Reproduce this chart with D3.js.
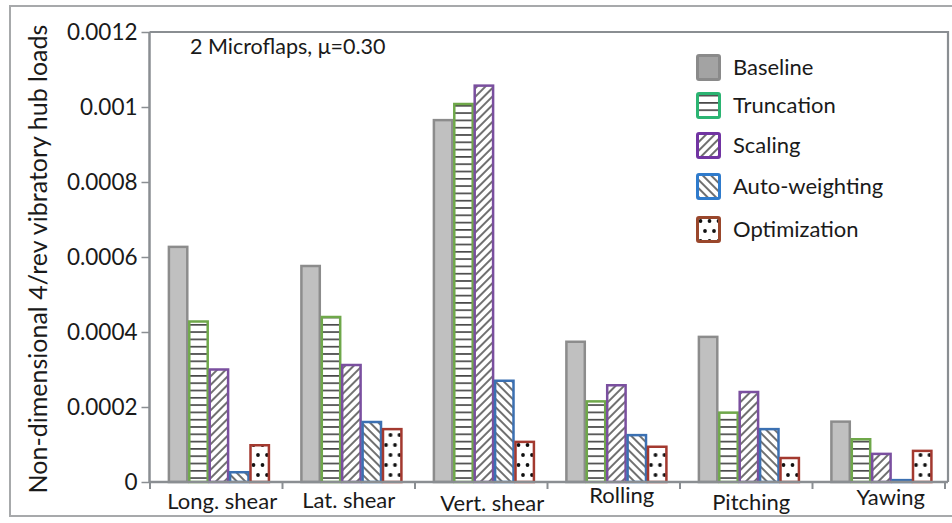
<!DOCTYPE html>
<html>
<head>
<meta charset="utf-8">
<script src="https://cdn.jsdelivr.net/npm/d3@7"></script>
<style>
  body { margin: 0; background: #fff; }
  text { font-family: Lato, "Open Sans", sans-serif; fill: #1a1a1a; }
</style>
</head>
<body>
<svg id="chart" width="952" height="523"></svg>
<script>
// data
const categories = ["Long. shear", "Lat. shear", "Vert. shear", "Rolling", "Pitching", "Yawing"];
const series = ["Baseline", "Truncation", "Scaling", "Auto-weighting", "Optimization"];
const baseline      = [0.000627, 0.000576, 0.000965, 0.000374, 0.000387, 0.000161];
const truncation    = [0.000428, 0.000440, 0.001008, 0.000215, 0.000185, 0.000114];
const scaling       = [0.000300, 0.000312, 0.001057, 0.000258, 0.000240, 0.000075];
const autoWeighting = [0.000026, 0.000160, 0.000270, 0.000125, 0.000141, 0.000005];
const optimization  = [0.000098, 0.000141, 0.000107, 0.000094, 0.000064, 0.000083];
const yTicks = [0, 0.0002, 0.0004, 0.0006, 0.0008, 0.001, 0.0012];
const yTickLabels = ["0", "0.0002", "0.0004", "0.0006", "0.0008", "0.001", "0.0012"];

const values = [baseline, truncation, scaling, autoWeighting, optimization];

// styling
const barStroke = ["#8c8c8c", "#6fa84a", "#7a4f9f", "#3b70b2", "#a3392f"];
const legendStroke = ["#8a8a8a", "#2bb472", "#7134a2", "#2f7bcc", "#9a472c"];
const fills = ["#c0c0c0", "url(#hlines)", "url(#fwd)", "url(#back)", "url(#dots)"];
const legendFills = ["#a3a3a3", "url(#hlines)", "url(#fwd)", "url(#back)", "url(#dots)"];
// odd shifts of the category labels in the original
const labelShift = [[6, 27], [0, 26], [11, 29], [8, 21], [5, 28], [12, 23]];

const plotLeft = 149.5, plotRight = 948, plotTop = 32, plotBottom = 482;

const svg = d3.select("#chart");

// patterns
const defs = svg.append("defs");
defs.append("pattern").attr("id", "hlines")
  .attr("patternUnits", "userSpaceOnUse").attr("width", 8).attr("height", 7.3)
  .call(p => {
    p.append("rect").attr("width", 8).attr("height", 7.3).attr("fill", "#fff");
    p.append("line").attr("x1", 0).attr("x2", 8).attr("y1", 3.6).attr("y2", 3.6)
      .attr("stroke", "#111").attr("stroke-width", 1.3);
  });
[["fwd", 45], ["back", -45]].forEach(([id, ang]) => {
  defs.append("pattern").attr("id", id)
    .attr("patternUnits", "userSpaceOnUse").attr("width", 6).attr("height", 6)
    .attr("patternTransform", `rotate(${ang})`)
    .call(p => {
      p.append("rect").attr("width", 6).attr("height", 6).attr("fill", "#fff");
      p.append("line").attr("x1", 3).attr("x2", 3).attr("y1", 0).attr("y2", 6)
        .attr("stroke", "#111").attr("stroke-width", 1.2);
    });
});
defs.append("pattern").attr("id", "dots")
  .attr("patternUnits", "userSpaceOnUse").attr("width", 9).attr("height", 20)
  .call(p => {
    p.append("rect").attr("width", 9).attr("height", 20).attr("fill", "#fff");
    p.append("circle").attr("cx", 4.5).attr("cy", 5).attr("r", 1.9).attr("fill", "#111");
    p.append("circle").attr("cx", 0).attr("cy", 15).attr("r", 1.9).attr("fill", "#111");
    p.append("circle").attr("cx", 9).attr("cy", 15).attr("r", 1.9).attr("fill", "#111");
  });

// outer frame
svg.append("rect")
  .attr("x", 10).attr("y", 6).attr("width", 960).attr("height", 510)
  .attr("fill", "none").attr("stroke", "#a7a9ab").attr("stroke-width", 2);

const x0 = d3.scaleBand().domain(categories).range([150, 945]).padding(0);
const bw = x0.bandwidth();
const x1 = d3.scaleBand().domain(series).range([bw * 0.135, bw * 0.905]).padding(0);
const y = d3.scaleLinear().domain([0, 0.0012]).range([plotBottom, plotTop]);

// plot frame (top and right)
svg.append("path")
  .attr("d", `M${plotLeft},${plotTop}H${plotRight}V${plotBottom}`)
  .attr("fill", "none").attr("stroke", "#8a8e92").attr("stroke-width", 2.2);

// bars
const groups = svg.append("g").selectAll("g")
  .data(categories).join("g")
  .attr("transform", d => `translate(${x0(d)},0)`);

groups.selectAll("rect")
  .data((c, ci) => series.map((s, si) => ({ s, si, v: values[si][ci] })))
  .join("rect")
  .attr("x", d => x1(d.s) + 1)
  .attr("width", x1.bandwidth() - 2)
  .attr("y", d => y(d.v))
  .attr("height", d => y(0) - y(d.v))
  .attr("fill", d => fills[d.si])
  .attr("stroke", d => barStroke[d.si])
  .attr("stroke-width", 2.5);

// y axis
const yAxis = d3.axisLeft(y)
  .tickValues(yTicks)
  .tickFormat((d, i) => yTickLabels[i])
  .tickSize(8).tickPadding(4);
const gy = svg.append("g").attr("transform", `translate(${plotLeft},0)`).call(yAxis);
gy.select(".domain").attr("stroke", "#8a8e92").attr("stroke-width", 2.5).attr("d", `M0,${plotTop}V${plotBottom}`);
gy.selectAll(".tick line").attr("stroke", "#8a8e92").attr("stroke-width", 1.5);
gy.selectAll(".tick text").style("font-size", "22.5px").attr("fill", "#1a1a1a");

// x axis
const xAxis = d3.axisBottom(x0).tickSize(0).tickFormat("");
const gx = svg.append("g").attr("transform", `translate(0,${plotBottom})`).call(xAxis);
gx.select(".domain").attr("stroke", "#8a8e92").attr("stroke-width", 2.5).attr("d", `M${plotLeft},0H${plotRight}`);
gx.selectAll(".tick").remove();
// category boundary ticks
const sepX = categories.map(c => x0(c)).concat([x0(categories[categories.length - 1]) + bw]);
gx.selectAll("line.sep")
  .data(sepX).join("line")
  .attr("class", "sep")
  .attr("x1", d => d).attr("x2", d => d)
  .attr("y1", 0).attr("y2", 7)
  .attr("stroke", "#8a8e92").attr("stroke-width", 2);

gx.selectAll("text.cat")
  .data(categories).join("text")
  .attr("class", "cat")
  .attr("x", (d, i) => x0(d) + bw / 2 + labelShift[i][0])
  .attr("y", (d, i) => labelShift[i][1])
  .attr("text-anchor", "middle")
  .style("font-size", "22px")
  .text(d => d);

// y title
svg.append("text")
  .attr("transform", `translate(47,259) rotate(-90)`)
  .attr("text-anchor", "middle")
  .style("font-size", "25px")
  .text("Non-dimensional 4/rev vibratory hub loads");

// annotation
svg.append("text")
  .attr("x", 190).attr("y", 54)
  .style("font-size", "21.5px")
  .text("2 Microflaps, μ=0.30");

// legend
const legendTops = [54, 92, 132, 173, 216];
const legend = svg.append("g").selectAll("g")
  .data(series).join("g")
  .attr("transform", (d, i) => `translate(696,${legendTops[i]})`);
legend.append("rect")
  .attr("x", 1.5).attr("y", 1.5).attr("width", 22).attr("height", 24).attr("rx", 1.5)
  .attr("fill", (d, i) => legendFills[i])
  .attr("stroke", (d, i) => legendStroke[i])
  .attr("stroke-width", 3);
legend.append("text")
  .attr("x", 37).attr("y", 13).attr("dy", "0.35em")
  .style("font-size", "22px")
  .text(d => d);
</script>
</body>
</html>
